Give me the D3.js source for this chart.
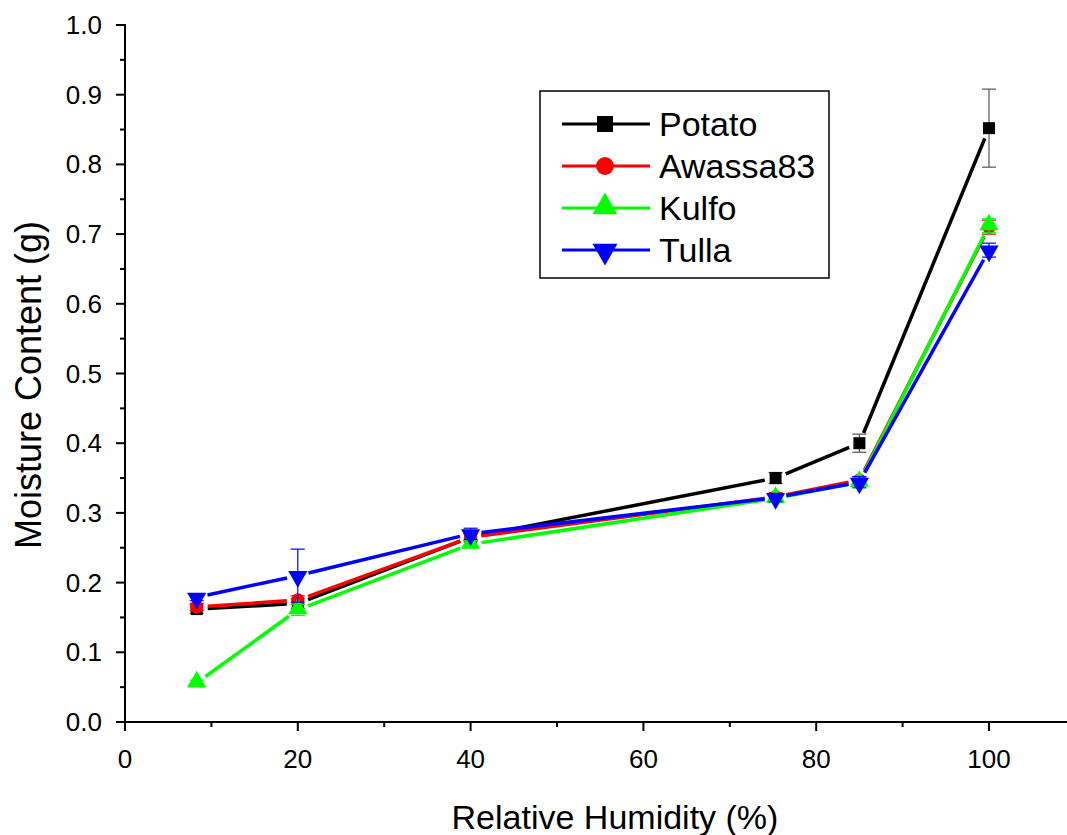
<!DOCTYPE html>
<html>
<head>
<meta charset="utf-8">
<script src="https://cdn.jsdelivr.net/npm/d3@7"></script>
<style>
  body { margin: 0; background: #fff; }
  svg { display: block; font-family: "Liberation Sans", Arial, sans-serif; }
</style>
</head>
<body>
<div id="chart"></div>
<script>
// humidity levels (%)
var humidity = [8.3, 20, 40, 75.3, 85, 100];

var seriesNames = ["Potato", "Awassa83", "Kulfo", "Tulla"];
var seriesColors = ["#000000", "#ff0000", "#00ff00", "#0000ff"];
var seriesShapes = ["square", "circle", "triangle", "triangleDown"];

var potato = [0.162, 0.170, 0.265, 0.350, 0.400, 0.852];
var awassa83 = [0.165, 0.175, 0.265, 0.323, 0.347, 0.710];
var kulfo = [0.056, 0.161, 0.255, 0.321, 0.344, 0.712];
var tulla = [0.179, 0.210, 0.270, 0.322, 0.344, 0.677];

var potatoErr = [0.006, 0.007, 0.005, 0.008, 0.013, 0.056];
var awassa83Err = [0.005, 0.006, 0.005, 0.006, 0.005, 0.010];
var kulfoErr = [0.004, 0.008, 0.005, 0.005, 0.006, 0.010];
var tullaErr = [0.005, 0.038, 0.008, 0.006, 0.008, 0.010];

var xTicks = [0, 20, 40, 60, 80, 100];
var yTicks = [0, 0.1, 0.2, 0.3, 0.4, 0.5, 0.6, 0.7, 0.8, 0.9, 1.0];

var allValues = [potato, awassa83, kulfo, tulla];
var allErrors = [potatoErr, awassa83Err, kulfoErr, tullaErr];

var width = 1067, height = 835;
var svg = d3.select("#chart").append("svg")
    .attr("width", width)
    .attr("height", height);

var x = d3.scaleLinear().domain([0, 110]).range([125, 125 + 110 * 8.64]);
var y = d3.scaleLinear().domain([0, 1]).range([722, 25]);

// axes
var xAxis = svg.append("g").attr("transform", "translate(0,722)");
xAxis.append("line")
    .attr("x1", x(0)).attr("x2", width + 5)
    .attr("stroke", "#000").attr("stroke-width", 2);
var xMinor = d3.range(10, 110, 20);
xAxis.selectAll(".minor").data(xMinor).enter().append("line")
    .attr("x1", d => x(d)).attr("x2", d => x(d))
    .attr("y1", 0).attr("y2", 5)
    .attr("stroke", "#000").attr("stroke-width", 2);
xAxis.selectAll(".major").data(xTicks).enter().append("line")
    .attr("x1", d => x(d)).attr("x2", d => x(d))
    .attr("y1", 0).attr("y2", 9)
    .attr("stroke", "#000").attr("stroke-width", 2);
xAxis.selectAll("text").data(xTicks).enter().append("text")
    .attr("x", d => x(d)).attr("y", 46)
    .attr("text-anchor", "middle")
    .attr("font-size", 26)
    .text(d => d);

var yAxis = svg.append("g").attr("transform", "translate(" + x(0) + ",0)");
yAxis.append("line")
    .attr("y1", y(0) + 1).attr("y2", y(1) - 1)
    .attr("stroke", "#000").attr("stroke-width", 2);
var yMinor = d3.range(0.05, 1, 0.1);
yAxis.selectAll(".minor").data(yMinor).enter().append("line")
    .attr("x1", -5).attr("x2", 0)
    .attr("y1", d => y(d)).attr("y2", d => y(d))
    .attr("stroke", "#000").attr("stroke-width", 2);
yAxis.selectAll(".major").data(yTicks).enter().append("line")
    .attr("x1", -9).attr("x2", 0)
    .attr("y1", d => y(d)).attr("y2", d => y(d))
    .attr("stroke", "#000").attr("stroke-width", 2);
yAxis.selectAll("text").data(yTicks).enter().append("text")
    .attr("x", -23).attr("y", d => y(d) + 9)
    .attr("text-anchor", "end")
    .attr("font-size", 26)
    .text(d => d3.format(".1f")(d));

svg.append("text")
    .attr("x", 615).attr("y", 829)
    .attr("text-anchor", "middle")
    .attr("font-size", 34)
    .text("Relative Humidity (%)");

svg.append("text")
    .attr("transform", "translate(41,385) rotate(-90)")
    .attr("text-anchor", "middle")
    .attr("font-size", 36)
    .text("Moisture Content (g)");

// marker shapes
function symbolFor(shape, big) {
    if (shape == "square") return d3.symbol().type(d3.symbolSquare).size(big ? 256 : 144);
    if (shape == "circle") return d3.symbol().type(d3.symbolCircle).size(big ? 254 : 140);
    return d3.symbol().type(d3.symbolTriangle).size(big ? 270 : 160);
}
function drawMarker(g, shape, color, cx, cy, big) {
    var rot = shape == "triangleDown" ? " rotate(180)" : "";
    var dy = shape == "triangle" ? -1 : (shape == "triangleDown" ? 1 : 0);
    g.append("path")
        .attr("d", symbolFor(shape, big)())
        .attr("transform", "translate(" + cx + "," + (cy + dy) + ")" + rot)
        .attr("fill", color);
}

var gap = 11;
seriesNames.forEach(function(name, si) {
    var color = seriesColors[si];
    var vals = allValues[si];
    var errs = allErrors[si];
    var g = svg.append("g");
    var pts = humidity.map((h, i) => [x(h), y(vals[i])]);

    // line segments with gaps around markers
    for (var i = 0; i < pts.length - 1; i++) {
        var a = pts[i], b = pts[i + 1];
        var dx = b[0] - a[0], dy = b[1] - a[1];
        var len = Math.sqrt(dx * dx + dy * dy);
        if (len <= 2 * gap) continue;
        var ux = dx / len, uy = dy / len;
        g.append("line")
            .attr("x1", a[0] + ux * gap).attr("y1", a[1] + uy * gap)
            .attr("x2", b[0] - ux * gap).attr("y2", b[1] - uy * gap)
            .attr("stroke", color).attr("stroke-width", 3.5);
    }

    // error bars
    humidity.forEach(function(h, i) {
        var cx = x(h);
        var top = y(vals[i] + errs[i]), bot = y(vals[i] - errs[i]);
        var ec = si == 0 ? "#555" : color;
        g.append("line").attr("x1", cx).attr("x2", cx).attr("y1", top).attr("y2", bot)
            .attr("stroke", ec).attr("stroke-width", 1.2);
        [top, bot].forEach(function(yy) {
            g.append("line").attr("x1", cx - 7).attr("x2", cx + 7).attr("y1", yy).attr("y2", yy)
                .attr("stroke", ec).attr("stroke-width", 1.2);
        });
    });

    pts.forEach(function(p) {
        drawMarker(g, seriesShapes[si], color, p[0], p[1], false);
    });
});

// legend
var legend = svg.append("g");
legend.append("rect")
    .attr("x", 540).attr("y", 91)
    .attr("width", 289).attr("height", 187)
    .attr("fill", "#fff").attr("stroke", "#000").attr("stroke-width", 1.5);
seriesNames.forEach(function(name, i) {
    var ly = 124 + i * 42;
    legend.append("line")
        .attr("x1", 562).attr("x2", 650).attr("y1", ly).attr("y2", ly)
        .attr("stroke", seriesColors[i]).attr("stroke-width", 3);
    drawMarker(legend, seriesShapes[i], seriesColors[i], 605, ly, true);
    legend.append("text")
        .attr("x", 659).attr("y", ly + 12)
        .attr("font-size", 34)
        .text(name);
});
</script>
</body>
</html>
